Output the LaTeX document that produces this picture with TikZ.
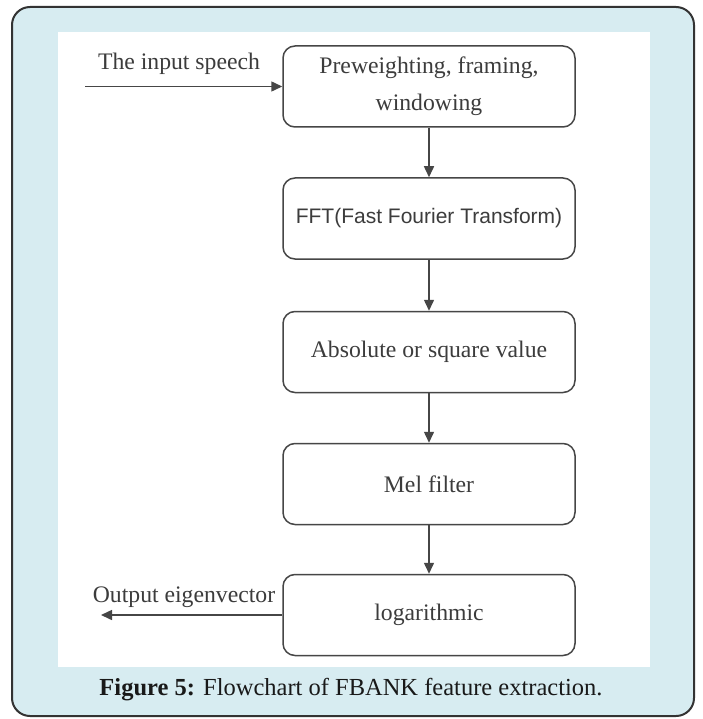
\documentclass[tikz,border=0pt]{standalone}
\usepackage{fontspec}
\setmainfont{Liberation Serif}
\newfontfamily\boxsans{Liberation Sans}
\usetikzlibrary{arrows.meta,positioning}
\definecolor{frame}{RGB}{215,236,241}
\definecolor{edge}{RGB}{70,70,70}
\definecolor{ink}{RGB}{60,60,60}
\newcommand{\boxserif}{\fontsize{23.7}{37}\selectfont}
\newcommand{\boxsansf}{\boxsans\fontsize{21}{30}\selectfont}

\begin{document}
\begin{tikzpicture}[x=1pt,y=-1pt,
    stage/.style={draw=edge,line width=1.5pt,rounded corners=12pt,fill=white,
      minimum width=292pt,minimum height=81pt,inner sep=0pt,align=center,text=ink},
    flow/.style={-{Triangle[length=11pt,width=10pt]},line width=1.5pt,edge},
    lbl/.style={text=ink,font=\boxserif}]
  \useasboundingbox (0,0) rectangle (702,719);
  % frame and white panel
  \draw[fill=frame,draw=black!80,line width=2pt,rounded corners=18pt] (12,7) rectangle (694,716);
  \fill[white] (58,32) rectangle (650,667);
  \foreach \n/\t/\f/\y in {pre/{Preweighting, framing,\\windowing}/\boxserif/86.5,
      fft/{FFT(Fast Fourier Transform)}/\boxsansf/218.5,
      abs/{Absolute or square value}/\boxserif/352,
      mel/{Mel filter}/\boxserif/484,
      log/{logarithmic}/\boxserif/615}{
    \node[stage,font=\f] (\n) at (429,\y) {\t};
  }
  \draw[flow] (pre) -- (fft);
  \draw[flow] (fft) -- (abs);
  \draw[flow] (abs) -- (mel);
  \draw[flow] (mel) -- (log);
  % input and output
  \coordinate (in) at (85,86.5);
  \coordinate (out) at (101,615);
  \draw[flow] (in) -- (pre);
  \draw[flow] (log) -- (out);
  \node[lbl] (inlbl) at (179,64) {The input speech};
  \node[lbl] (outlbl) at (184,597) {Output eigenvector};
  \node[font=\fontsize{24.5}{28}\selectfont,text=black!90] (cap) at (351,690)
    {\textbf{Figure 5:} Flowchart of FBANK feature extraction.};
\end{tikzpicture}
\end{document}
